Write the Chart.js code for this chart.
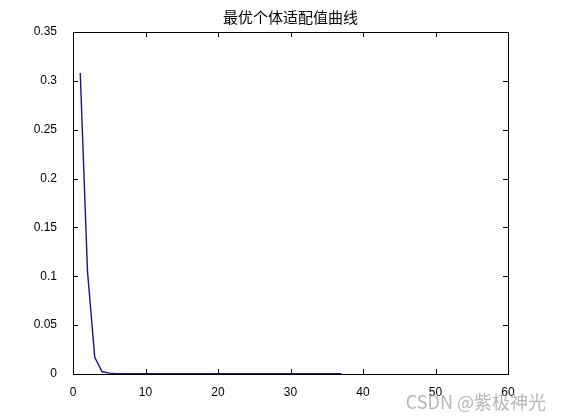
<!DOCTYPE html>
<html>
<head>
<meta charset="utf-8">
<script src="https://cdn.jsdelivr.net/npm/chart.js@4"></script>
<style>
  html, body { margin: 0; padding: 0; background: #fff; }
  #wrap { width: 561px; height: 420px; }
</style>
</head>
<body>
<div id="wrap"><canvas id="myChart" width="561" height="420"></canvas></div>
<script>
// donnees
const generations = [1, 2, 3, 4, 5, 6, 7, 8, 9, 10, 11, 12, 13, 14, 15, 16, 17, 18, 19, 20,
    21, 22, 23, 24, 25, 26, 27, 28, 29, 30, 31, 32, 33, 34, 35, 36, 37];
const bestFitness = [0.308, 0.105, 0.017, 0.0025, 0.0009, 0.0004, 0.0003, 0.0003, 0.0003, 0.0002,
    0.0002, 0.0002, 0.0002, 0.0002, 0.0002, 0.0002, 0.0002, 0.0002, 0.0002, 0.0002,
    0.0002, 0.0002, 0.0002, 0.0002, 0.0002, 0.0002, 0.0002, 0.0002, 0.0002, 0.0002,
    0.0002, 0.0002, 0.0002, 0.0002, 0.0002, 0.0002, 0.0002];
const xTicks = [0, 10, 20, 30, 40, 50, 60];
const yTicks = [0, 0.05, 0.1, 0.15, 0.2, 0.25, 0.3, 0.35];
const chartTitle = '最优个体适配值曲线';
const watermark = 'CSDN @紫极神光';

const tickFont = { family: "'Liberation Sans', Arial, sans-serif", size: 12 };

// cadre + graduations vers l'interieur (style matlab), titre et filigrane
const boxPlugin = {
    id: 'boxPlugin',
    afterDraw(chart) {
        const ctx = chart.ctx;
        const a = chart.chartArea;
        const xs = chart.scales.x;
        const ys = chart.scales.y;
        const len = 5;
        ctx.save();
        ctx.strokeStyle = '#000';
        ctx.lineWidth = 1;
        ctx.strokeRect(Math.round(a.left) + 0.5, Math.round(a.top) + 0.5,
            Math.round(a.right - a.left), Math.round(a.bottom - a.top));
        ctx.beginPath();
        xTicks.forEach(v => {
            const px = Math.round(xs.getPixelForValue(v)) + 0.5;
            ctx.moveTo(px, a.bottom); ctx.lineTo(px, a.bottom - len);
            ctx.moveTo(px, a.top); ctx.lineTo(px, a.top + len);
        });
        yTicks.forEach(v => {
            const py = Math.round(ys.getPixelForValue(v)) + 0.5;
            ctx.moveTo(a.left, py); ctx.lineTo(a.left + len, py);
            ctx.moveTo(a.right, py); ctx.lineTo(a.right - len, py);
        });
        ctx.stroke();
        // titre
        ctx.font = "15px 'Noto Sans CJK SC', sans-serif";
        ctx.fillStyle = '#000';
        ctx.textAlign = 'center';
        ctx.textBaseline = 'middle';
        ctx.fillText(chartTitle, (a.left + a.right) / 2, 17);
        // filigrane
        ctx.font = "18px 'Noto Sans CJK SC', sans-serif";
        ctx.fillStyle = 'rgba(150,150,150,0.7)';
        ctx.textAlign = 'right';
        ctx.fillText(watermark, 546, 402);
        ctx.restore();
    }
};

const ctx = document.getElementById('myChart').getContext('2d');
const chart = new Chart(ctx, {
    type: 'line',
    data: {
        datasets: [{
            label: chartTitle,
            data: generations.map((g, i) => ({ x: g, y: bestFitness[i] })),
            borderColor: '#16168f',
            borderWidth: 1.4,
            pointRadius: 0,
            tension: 0,
            fill: false
        }]
    },
    options: {
        responsive: false,
        animation: false,
        layout: { padding: { left: 0, right: 53, top: 32, bottom: 0 } },
        plugins: {
            legend: { display: false },
            tooltip: { enabled: false },
            title: { display: false }
        },
        scales: {
            x: {
                type: 'linear',
                min: 0,
                max: 60,
                afterBuildTicks: s => { s.ticks = xTicks.map(v => ({ value: v })); },
                afterFit: s => { s.height = 46; },
                grid: { display: false },
                border: { display: false },
                ticks: { color: '#000', font: tickFont, padding: 3, maxRotation: 0 }
            },
            y: {
                type: 'linear',
                min: 0,
                max: 0.35,
                afterBuildTicks: s => { s.ticks = yTicks.map(v => ({ value: v })); },
                afterFit: s => { s.width = 73; },
                grid: { display: false },
                border: { display: false },
                ticks: { color: '#000', font: tickFont, padding: 8, callback: v => String(v) }
            }
        }
    },
    plugins: [boxPlugin]
});
</script>
</body>
</html>
